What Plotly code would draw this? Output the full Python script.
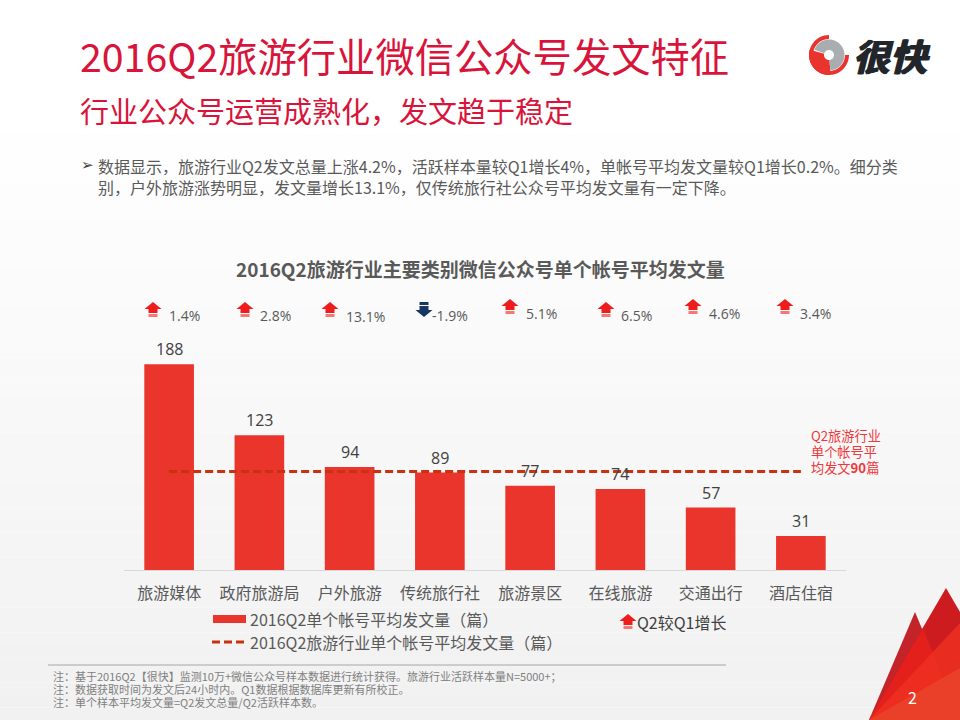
import numpy as np
import plotly.graph_objects as go

categories = ["旅游媒体", "政府旅游局", "户外旅游", "传统旅行社", "旅游景区", "在线旅游", "交通出行", "酒店住宿"]
posts_per_account = [188, 123, 94, 89, 77, 74, 57, 31]
industry_average = [90, 90, 90, 90, 90, 90, 90, 90]
growth_labels = ["1.4%", "2.8%", "13.1%", "-1.9%", "5.1%", "6.5%", "4.6%", "3.4%"]

FONT = "Noto Sans CJK SC"
TEXT = "#595959"
BAR_RED = "#ea352d"
LINE_RED = "#c8320e"

# pixel positions of the growth row: arrow centre, arrow top, label left, label middle
arrow_x = [153, 245, 330, 424, 510, 606, 693, 785]
arrow_y = [302, 302, 302, 302, 299, 302, 299, 299]
label_x = [168, 259, 345, 431, 525, 620, 708, 799]
label_y = [315, 315, 316, 315, 313, 315, 313, 313]


def fx(x):
    return x / 960


def fy(y):
    return 1 - y / 720


def poly(points, color, opacity=1, layer="above"):
    path = "M" + "L".join("%.5f,%.5f" % (fx(x), fy(y)) for x, y in points) + "Z"
    return dict(type="path", xref="paper", yref="paper", path=path, fillcolor=color,
                line=dict(width=0), opacity=opacity, layer=layer)


def sector(cx, cy, r0, r1, a0, a1, color):
    angles = np.radians(np.linspace(a0, a1, 40))
    outer = [(cx + r1 * np.cos(a), cy - r1 * np.sin(a)) for a in angles]
    inner = [(cx + r0 * np.cos(a), cy - r0 * np.sin(a)) for a in angles[::-1]]
    return poly(outer + inner, color)


def arrow(cx, y, up=True, color="#ee1c1c", stripe="#f27a72"):
    s = 1 if up else -1
    y0 = y if up else y + 15
    shapes = [poly([(cx, y0), (cx + 8.5, y0 + s * 7), (cx + 4.5, y0 + s * 7), (cx + 4.5, y0 + s * 11),
                    (cx - 4.5, y0 + s * 11), (cx - 4.5, y0 + s * 7), (cx - 8.5, y0 + s * 7)], color)]
    shapes.append(poly([(cx + 4.5, y0 + s * 12), (cx + 4.5, y0 + s * 15),
                        (cx - 4.5, y0 + s * 15), (cx - 4.5, y0 + s * 12)], stripe))
    return shapes


def note(x, y, text, size, color=TEXT, anchor="left", family=FONT):
    return dict(xref="paper", yref="paper", x=fx(x), y=fy(y), text=text, showarrow=False,
                xanchor=anchor, yanchor="middle", align="left", borderpad=0,
                font=dict(family=family, size=size, color=color))


fig = go.Figure()
fig.add_trace(go.Bar(x=categories, y=posts_per_account, marker=dict(color=BAR_RED, line=dict(width=0)),
                     name="2016Q2单个帐号平均发文量（篇）"))
fig.add_trace(go.Scatter(x=categories, y=industry_average, mode="lines",
                         line=dict(color=LINE_RED, width=3, dash="8px,4px"),
                         name="2016Q2旅游行业单个帐号平均发文量（篇）"))

shapes = []
# background fade, white at the top to light grey at the bottom
for i in range(48):
    top = 120 + i * 12.5
    grey = round(255 - 14 * (i + 1) / 48)
    shapes.append(dict(type="rect", xref="paper", yref="paper", x0=0, x1=1, y0=fy(top + 12.5), y1=fy(top),
                       fillcolor="rgb(%d,%d,%d)" % (grey, grey, grey), line=dict(width=0), layer="below"))

# corner triangles
shapes.append(poly([(869, 720), (915, 612), (960, 720)], "#c3242a"))
shapes.append(poly([(869, 720), (946, 588), (960, 612), (960, 720)], "#cc1c20"))
shapes.append(poly([(869, 720), (923, 628), (960, 720)], "#e3201b"))
shapes.append(poly([(869, 720), (960, 623), (960, 720)], "#ec2f20", opacity=0.9))
shapes.append(poly([(869, 720), (960, 668), (960, 720)], "#ea4029"))

# logo ring
shapes.append(sector(829, 55, 16, 20, 90, 360, "#e9332f"))
shapes.append(sector(829, 55, 5, 20, 165, 275, "#e9332f"))
shapes.append(sector(829, 55, 5, 15.5, -85, 160, "#a9adb0"))

# growth arrows
for cx, y, label in zip(arrow_x, arrow_y, growth_labels):
    if label.startswith("-"):
        shapes += arrow(cx, y, up=False, color="#17375e", stripe="#17375e")
    else:
        shapes += arrow(cx, y)

# legend marks and footnote rule
shapes.append(dict(type="rect", xref="paper", yref="paper", x0=fx(213), x1=fx(246), y0=fy(623), y1=fy(615),
                   fillcolor=BAR_RED, line=dict(width=0)))
shapes.append(dict(type="line", xref="paper", yref="paper", x0=fx(212), x1=fx(245), y0=fy(642), y1=fy(642),
                   line=dict(color=LINE_RED, width=3, dash="8px,4px")))
shapes += arrow(628, 614)
shapes.append(dict(type="line", xref="paper", yref="paper", x0=fx(48), x1=fx(726), y0=fy(665), y1=fy(665),
                   line=dict(color="#a6a6a6", width=1)))

logo_text = note(852, 55, "<b><i>很快</i></b>", 37, "#22262a")
logo_text["font"]["shadow"] = "1px 0 0 #22262a, -1px 0 0 #22262a"

annotations = [
    note(79, 55, "2016Q2旅游行业微信公众号发文特征", 39.3, "#d9143a"),
    note(79, 110, "行业公众号运营成熟化，发文趋于稳定", 29, "#d9143a"),
    logo_text,
    note(80, 165, "➢", 15, "#404040", family="DejaVu Sans"),
    note(97, 166, "数据显示，旅游行业Q2发文总量上涨4.2%，活跃样本量较Q1增长4%，单帐号平均发文量较Q1增长0.2%。细分类", 16),
    note(97, 187, "别，户外旅游涨势明显，发文量增长13.1%，仅传统旅行社公众号平均发文量有一定下降。", 16),
    note(480, 268, "<b>2016Q2旅游行业主要类别微信公众号单个帐号平均发文量</b>", 19, anchor="center"),
    note(810, 436, "Q2旅游行业", 13.2, "#f0383a"),
    note(810, 451, "单个帐号平", 13.2, "#f0383a"),
    note(810, 467, "均发文<b>90</b>篇", 13.2, "#f0383a"),
    note(249, 619, "2016Q2单个帐号平均发文量（篇）", 16),
    note(249, 642, "2016Q2旅游行业单个帐号平均发文量（篇）", 16),
    note(636, 622, "Q2较Q1增长", 16, "#404040"),
    note(52, 676, "注：基于2016Q2【很快】监测10万+微信公众号样本数据进行统计获得。旅游行业活跃样本量N=5000+；", 11, "#7f7f7f"),
    note(52, 689, "注：数据获取时间为发文后24小时内。Q1数据根据数据库更新有所校正。", 11, "#7f7f7f"),
    note(52, 702, "注：单个样本平均发文量=Q2发文总量/Q2活跃样本数。", 11, "#7f7f7f"),
    note(912, 697, "2", 16, "#ffffff", anchor="center"),
]
for x, y, label in zip(label_x, label_y, growth_labels):
    annotations.append(note(x, y, label, 14, TEXT, family="Open Sans"))
# value labels sit just above each bar
for name, value in zip(categories, posts_per_account):
    annotations.append(dict(x=name, y=value, xref="x", yref="y", text=str(value), showarrow=False,
                            yanchor="bottom", yshift=2, font=dict(family="Open Sans", size=16, color="#404040")))

fig.update_layout(
    width=960, height=720, margin=dict(l=0, r=0, t=0, b=0),
    paper_bgcolor="#ffffff", plot_bgcolor="rgba(0,0,0,0)",
    font=dict(family=FONT, color=TEXT), showlegend=False, bargap=0.45,
    shapes=shapes, annotations=annotations,
)
fig.update_xaxes(domain=[fx(124), fx(846)], showline=True, linecolor="#d9d9d9", linewidth=1,
                 showgrid=False, ticks="", tickfont=dict(family=FONT, size=16, color=TEXT), ticklabelstandoff=9,
                 tickangle=0, fixedrange=True)
fig.update_yaxes(domain=[fy(570), fy(351)], range=[0, 200], visible=False, showgrid=False, fixedrange=True)

# page margin would push the slide 8px off the window
fig.write_html("out.html", config=dict(displayModeBar=False), post_script="document.body.style.margin='0';")
